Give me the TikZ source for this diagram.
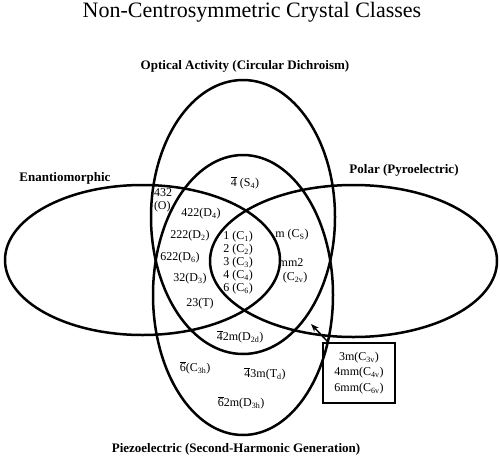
\documentclass[tikz,border=0pt]{standalone}
\usepackage{fontspec}
\setmainfont{Liberation Serif}
\usetikzlibrary{arrows.meta, positioning}

\newcommand{\lo}[1]{\textsubscript{#1}}
\newcommand{\bardigit}[1]{$\overline{\mbox{#1}}$}

\begin{document}
\begin{tikzpicture}[x=1pt, y=-1pt, font=\fontsize{12}{13}\selectfont,
    setline/.style={line width=2.5pt},
    setlabel/.style={anchor=base, font=\fontsize{13}{15}\selectfont\bfseries},
    cls/.style={inner sep=0pt, align=center}]
    \useasboundingbox (0,0) rectangle (500,458);
    \node[anchor=base, font=\fontsize{22}{26}\selectfont] (title) at (252,17) {Non-Centrosymmetric Crystal Classes};

    % the four sets
    \draw[setline] (243,217) ellipse [x radius=92pt, y radius=137pt];
    \draw[setline] (243,295) ellipse [x radius=90pt, y radius=140pt];
    \draw[setline] (142.5,260) ellipse [x radius=137.5pt, y radius=75pt];
    \draw[setline] (353.5,261) ellipse [x radius=143.5pt, y radius=76pt];

    \node[setlabel] (optical) at (245,69) {Optical Activity (Circular Dichroism)};
    \node[setlabel] (enantio) at (65,181) {Enantiomorphic};
    \node[setlabel] (polar) at (404,173) {Polar (Pyroelectric)};
    \node[setlabel] (piezo) at (236,452) {Piezoelectric (Second-Harmonic Generation)};

    % crystal classes
    \node[cls] (s4) at (245,183) {\bardigit{4} (S\lo{4})};
    \node[cls, align=left] (o) at (163,200) {432\\(O)};
    \node[cls] (d4) at (201,214) {422(D\lo{4})};
    \node[cls] (d2) at (190,236) {222(D\lo{2})};
    \node[cls] (d6) at (180,258) {622(D\lo{6})};
    \node[cls] (d3) at (190,279) {32(D\lo{3})};
    \node[cls] (t) at (200,304) {23(T)};
    \node[cls, align=left] (cn) at (238,262.5) {1 (C\lo{1})\\2 (C\lo{2})\\3 (C\lo{3})\\4 (C\lo{4})\\6 (C\lo{6})};
    \node[cls] (cs) at (292,235) {m (C\lo{S})};
    \node[cls] (mm2) at (291,263) {mm2};
    \node[cls] (c2v) at (295,278) {(C\lo{2v})};
    \node[cls] (d2d) at (240,337) {\bardigit{4}2m(D\lo{2d})};
    \node[cls] (c3h) at (195,368) {\bardigit{6}(C\lo{3h})};
    \node[cls] (td) at (265,374) {\bardigit{4}3m(T\lo{d})};
    \node[cls] (d3h) at (241,403) {\bardigit{6}2m(D\lo{3h})};
    \node[draw, line width=2pt, minimum width=72pt, minimum height=60pt, align=center,
          font=\fontsize{12}{15.5}\selectfont] (box) at (359,373) {3m(C\lo{3v})\\4mm(C\lo{4v})\\6mm(C\lo{6v})};

    \coordinate (tip) at (311,324);
    \draw[-{Stealth[length=8pt,width=6pt]}, line width=1.5pt] ([xshift=6pt]box.north west) -- (tip);
\end{tikzpicture}
\end{document}
